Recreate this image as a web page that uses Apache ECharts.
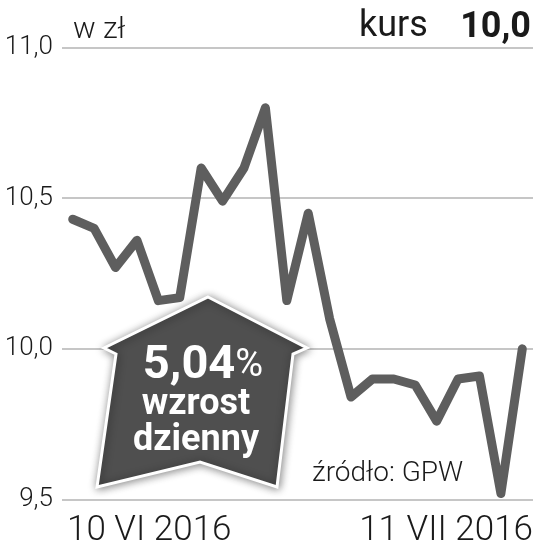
<!DOCTYPE html>
<html>
<head>
<meta charset="utf-8">
<script src="https://cdn.jsdelivr.net/npm/echarts@6/dist/echarts.min.js"></script>
<style>
html,body{margin:0;padding:0;background:#fff;}
#chart{width:538px;height:551px;}
</style>
</head>
<body>
<div id="chart"></div>
<script>
// Trading days 10 VI 2016 – 11 VII 2016
const dates = ['10 VI 2016','13 VI 2016','14 VI 2016','15 VI 2016','16 VI 2016','17 VI 2016',
  '20 VI 2016','21 VI 2016','22 VI 2016','23 VI 2016','24 VI 2016',
  '27 VI 2016','28 VI 2016','29 VI 2016','30 VI 2016','1 VII 2016',
  '4 VII 2016','5 VII 2016','6 VII 2016','7 VII 2016','8 VII 2016','11 VII 2016'];
const prices = [10.43,10.40,10.27,10.36,10.16,10.17,10.60,10.49,10.60,10.80,10.16,
  10.45,10.10,9.84,9.90,9.90,9.88,9.76,9.90,9.91,9.52,10.00];
const yTicks = [9.5, 10.0, 10.5, 11.0];
const unitLabel = 'w zł';
const kursLabel = 'kurs';
const changeLabel = '5,04';
const changeText1 = 'wzrost';
const changeText2 = 'dzienny';
const sourceLabel = 'źródło: GPW';

const fmt = v => v.toFixed(1).replace('.', ',');
const lastIdx = dates.length - 1;
const seriesData = prices.map((v, i) => [i, v]);

const chart = echarts.init(document.getElementById('chart'), null, {renderer: 'canvas'});
const FONT = 'Roboto';

chart.setOption({
  animation: false,
  backgroundColor: '#ffffff',
  grid: {left: 62, right: 5, top: 47.5, bottom: 51.5, containLabel: false},
  xAxis: {
    type: 'value',
    min: -0.5,
    max: lastIdx + 0.5,
    interval: 100,
    axisLine: {show: false},
    axisTick: {show: false},
    splitLine: {show: false},
    axisLabel: {
      show: true,
      margin: 14,
      showMinLabel: true,
      showMaxLabel: true,
      alignMinLabel: 'left',
      alignMaxLabel: 'right',
      fontFamily: FONT,
      fontWeight: 300,
      fontSize: 35,
      color: '#1a1a1a',
      formatter: function (v) {
        if (v === -0.5) return '{a|' + dates[0] + '}';
        if (v === lastIdx + 0.5) return dates[lastIdx];
        return '';
      },
      rich: {a: {fontFamily: FONT, fontWeight: 300, fontSize: 35, color: '#1a1a1a', padding: [0, 0, 0, 5]}}
    }
  },
  yAxis: {
    type: 'value',
    min: yTicks[0],
    max: yTicks[yTicks.length - 1],
    interval: 0.5,
    axisLine: {show: false},
    axisTick: {show: false},
    splitLine: {show: true, lineStyle: {color: '#b3b3b3', width: 1.5}},
    axisLabel: {
      margin: 9,
      fontFamily: FONT,
      fontWeight: 300,
      fontSize: 26,
      color: '#1a1a1a',
      verticalAlign: 'middle',
      padding: [4, 0, 0, 0],
      formatter: v => fmt(v)
    }
  },
  series: [{
    type: 'line',
    data: seriesData,
    showSymbol: false,
    symbol: 'none',
    z: 2,
    lineStyle: {color: '#5e5e5e', width: 9, cap: 'round', join: 'round'}
  }],
  graphic: [
    {type: 'text', left: 73, top: 15, z: 10,
      style: {text: unitLabel, fontFamily: FONT, fontWeight: 300, fontSize: 30, fill: '#1a1a1a'}},
    {type: 'text', left: 359, top: 9, z: 10,
      style: {text: kursLabel, fontFamily: FONT, fontWeight: 400, fontSize: 36, fill: '#1a1a1a'}},
    {type: 'text', right: 7, top: 10, z: 10,
      style: {text: fmt(prices[lastIdx]), fontFamily: FONT, fontWeight: 700, fontSize: 36, fill: '#1a1a1a'}},
    {type: 'polygon', z: 20,
      shape: {points: [[208,297],[307,348],[293,354],[277,487],[200,462],[97,487],[116,354],[104,348]]},
      style: {fill: '#4f4f4f', stroke: '#ffffff', lineWidth: 3,
        shadowBlur: 8, shadowColor: 'rgba(0,0,0,0.45)', shadowOffsetX: 1, shadowOffsetY: 1}},
    {type: 'text', x: 203, y: 366, z: 21,
      style: {text: '{a|' + changeLabel + '}{b|%}', align: 'center', verticalAlign: 'middle',
        rich: {a: {fontFamily: FONT, fontWeight: 700, fontSize: 47, fill: '#ffffff', color: '#ffffff'},
               b: {fontFamily: FONT, fontWeight: 400, fontSize: 38, fill: '#ffffff', color: '#ffffff'}}}},
    {type: 'text', x: 196, y: 405, z: 21,
      style: {text: changeText1, align: 'center', verticalAlign: 'middle',
        fontFamily: FONT, fontWeight: 700, fontSize: 36, fill: '#ffffff'}},
    {type: 'text', x: 196, y: 441, z: 21,
      style: {text: changeText2, align: 'center', verticalAlign: 'middle',
        fontFamily: FONT, fontWeight: 700, fontSize: 36, fill: '#ffffff'}},
    {type: 'text', left: 312, top: 460, z: 10,
      style: {text: sourceLabel, fontFamily: FONT, fontWeight: 300, fontSize: 28, fill: '#1a1a1a'}}
  ]
});
</script>
</body>
</html>
